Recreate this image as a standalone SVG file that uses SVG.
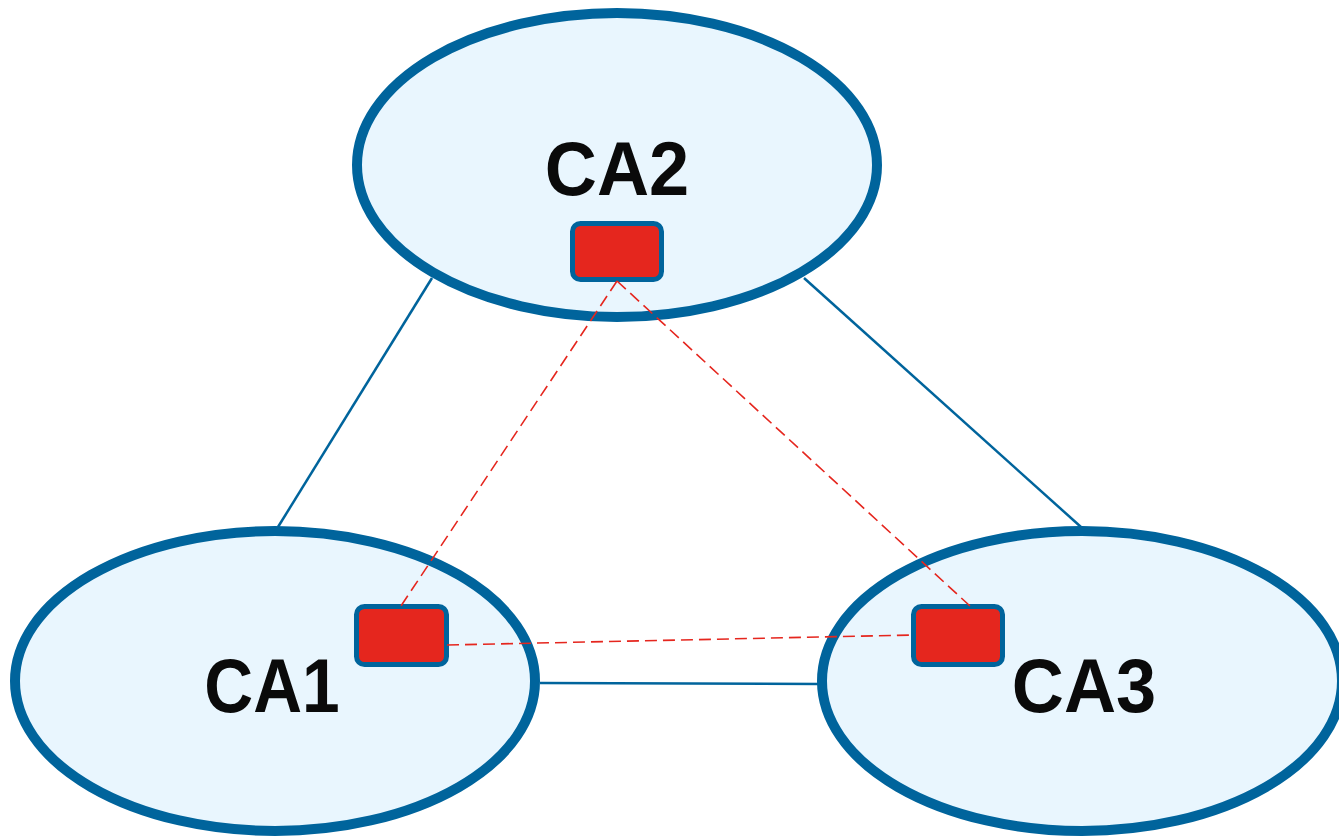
<svg xmlns="http://www.w3.org/2000/svg" width="1339" height="839" viewBox="0 0 1339 839">
<style>
.ell{fill:#e9f6fe;stroke:#00649c;stroke-width:10}
.box{fill:#e5261e;stroke:#00649c;stroke-width:5}
.lbl{font-family:"Liberation Sans",Arial,sans-serif;font-weight:bold;font-size:76px;fill:#0a0a0a;text-anchor:middle}
.link{stroke:#00649c;stroke-width:2.5;fill:none}
.dash{stroke:#e5261e;stroke-width:1.6;fill:none;stroke-dasharray:12 6}
</style>
<rect width="1339" height="839" fill="#ffffff"/>
<g id="connectors">
<line class="link" x1="432" y1="278" x2="278" y2="527"/>
<line class="link" x1="804" y1="278" x2="1081" y2="527"/>
<line class="link" x1="540" y1="683" x2="820" y2="684"/>
</g>
<g id="CA2">
<ellipse class="ell" cx="617" cy="165" rx="260" ry="152"/>
<text class="lbl" transform="translate(617,195) scale(0.95,1)">CA2</text>
</g>
<g id="CA1">
<ellipse class="ell" cx="275" cy="681" rx="260" ry="150"/>
<text class="lbl" transform="translate(272,712) scale(0.89,1)">CA1</text>
</g>
<g id="CA3">
<ellipse class="ell" cx="1082" cy="681" rx="260" ry="150"/>
<text class="lbl" transform="translate(1084,712) scale(0.95,1)">CA3</text>
</g>
<g id="box2"><rect class="box" x="572.5" y="223.5" width="89" height="56" rx="8"/></g>
<g id="box1"><rect class="box" x="356.5" y="606.5" width="90" height="58" rx="8"/></g>
<g id="box3"><rect class="box" x="913.5" y="606.5" width="89" height="58" rx="8"/></g>
<g id="dashed-connectors">
<line class="dash" x1="617" y1="281" x2="401" y2="606"/>
<line class="dash" x1="617" y1="281" x2="970" y2="606"/>
<line class="dash" x1="447" y1="645" x2="913" y2="635"/>
</g>
</svg>
